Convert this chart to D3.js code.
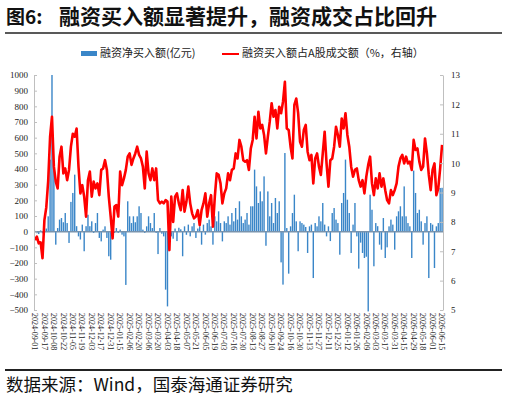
<!DOCTYPE html>
<html>
<head>
<meta charset="utf-8">
<script src="https://cdn.jsdelivr.net/npm/d3@7"></script>
<style>
  body { margin: 0; background: #fff; }
  svg { display: block; }
</style>
</head>
<body>
<div id="chart"></div>
<script>
// category labels (every 5th point)
const dateLabels = [
  "2024-09-01","2024-09-17","2024-10-08","2024-10-22","2024-11-05","2024-11-19",
  "2024-12-03","2024-12-17","2024-12-31","2025-01-15","2025-02-06","2025-02-20",
  "2025-03-06","2025-03-20","2025-04-03","2025-04-18","2025-05-07","2025-05-21",
  "2025-06-05","2025-06-19","2025-07-03","2025-07-16","2025-07-30","2025-08-13",
  "2025-08-27","2025-09-10","2025-09-24","2025-10-16","2025-10-30","2025-11-13",
  "2025-11-27","2025-12-11","2025-12-25","2026-01-12","2026-01-26","2026-02-09",
  "2026-03-03","2026-03-17","2026-03-31","2026-04-15","2026-04-29","2026-05-18",
  "2026-06-01","2026-06-15"
];
const labelStep = 5;

// 融资净买入额 (亿元)
const netBuy = [
  5,-10,-15,8,-10,10,20,98,460,1000,390,-83,23,77,87,60,119,55,-72,190,
  247,364,35,-30,-50,45,-125,35,108,35,66,-8,55,119,-40,-62,13,34,-40,-157,
  -179,30,-8,23,-8,13,-19,-30,-340,194,98,55,98,60,98,162,119,13,-8,34,
  98,55,23,119,-8,-143,23,-13,-30,-370,-477,20,-30,-45,20,-60,25,15,-157,34,
  -20,45,-30,34,55,-40,20,34,-83,45,-19,55,77,34,-83,98,66,130,55,-62,
  66,55,98,45,119,66,151,77,194,98,55,77,119,45,162,162,396,289,183,257,
  194,353,-90,257,98,183,55,215,119,194,-196,-338,502,23,-268,34,119,236,66,-125,
  66,55,45,30,-136,34,45,-296,55,34,98,66,183,45,-30,34,-60,119,151,77,
  55,-147,183,247,460,204,119,-136,45,183,-30,-236,-70,-136,-168,-160,-509,236,140,-221,
  55,35,-83,-115,87,-168,-100,34,77,45,-115,98,130,162,98,289,98,55,34,-168,
  390,247,119,140,66,-83,55,98,-296,55,45,-232,34,55,279,280
];

// 融资买入额占A股成交额 (%, 右轴)
const buyRatio = [
  7.38,7.5,7.27,7.3,6.76,8.06,8.5,9.4,10.9,11.58,9.88,9.37,9.14,10.22,10.56,9.65,9.82,9.42,9.77,10.56,
  11.0,10.9,11.18,9.88,8.97,9.25,8.86,8.18,9.42,9.71,8.86,9.37,9.14,9.31,8.91,9.77,9.82,10.1,9.77,8.86,
  8.18,7.44,8.52,8.57,8.18,9.71,9.25,9.48,9.77,10.22,10.33,9.94,10.16,10.33,10.56,10.28,10.16,9.88,9.14,10.39,
  9.65,9.42,9.82,9.42,9.82,8.74,8.63,8.69,8.63,8.74,8.69,7.04,8.86,8.0,8.86,8.97,8.63,8.4,9.08,8.35,
  8.69,9.2,8.63,8.29,8.12,8.18,8.4,7.89,8.4,8.63,8.97,8.18,8.63,8.91,7.84,8.86,9.65,9.6,9.31,8.63,
  8.97,9.14,9.65,9.42,9.77,9.82,10.33,10.16,10.79,10.56,10.1,10.05,10.1,9.77,10.5,10.79,11.58,10.84,11.75,11.18,
  11.3,10.96,10.33,10.9,11.41,12.04,11.58,11.81,11.18,11.92,11.7,12.09,12.77,11.18,11.13,10.56,10.16,11.98,12.2,11.7,
  10.73,10.56,11.13,11.3,10.39,10.1,10.28,9.31,10.16,10.33,9.88,9.6,10.33,11.07,9.99,9.2,10.1,10.16,10.56,11.24,
  10.96,10.56,11.52,11.18,11.7,10.96,10.56,9.88,9.54,9.77,9.82,9.42,9.2,9.42,8.97,9.54,9.94,10.22,9.31,8.91,
  9.48,9.14,9.65,9.2,9.48,9.08,8.74,8.63,9.08,8.91,9.08,9.31,9.88,10.16,10.28,9.99,10.22,9.99,10.05,9.77,
  10.79,10.45,10.5,10.05,9.77,9.88,10.84,10.33,9.6,9.08,9.77,9.99,8.91,9.14,9.82,10.62
];

const leftTicks = [-500,-400,-300,-200,-100,0,100,200,300,400,500,600,700,800,900,1000];
const rightTicks = [5,6,7,8,9,10,11,12,13];

const W = 508, H = 401;
const plot = {left: 34, right: 443, top: 75, bottom: 310};
const cjk = '"Noto Sans CJK SC", "Noto Sans", sans-serif';
const serif = '"Liberation Serif", "DejaVu Serif", serif';

const svg = d3.select('#chart').append('svg')
  .attr('width', W).attr('height', H);

// title
svg.append('text')
  .attr('x', 6).attr('y', 24)
  .style('font-family', cjk).style('font-weight', 'bold').style('font-size', '19px')
  .style('fill', '#111')
  .text('图6:');
svg.append('text')
  .attr('x', 59).attr('y', 24)
  .style('font-family', cjk).style('font-weight', 'bold').style('font-size', '21px')
  .style('fill', '#111')
  .text('融资买入额显著提升，融资成交占比回升');
svg.append('line')
  .attr('x1', 5).attr('x2', 502).attr('y1', 33).attr('y2', 33)
  .style('stroke', '#222').style('stroke-width', 1.5);

// legend
svg.append('rect')
  .attr('x', 81).attr('y', 51).attr('width', 16).attr('height', 5)
  .style('fill', '#3a86c8');
svg.append('text')
  .attr('x', 100).attr('y', 57)
  .style('font-family', cjk).style('font-size', '11px').style('fill', '#222')
  .text('融资净买入额(亿元)');
svg.append('line')
  .attr('x1', 222).attr('x2', 239).attr('y1', 54).attr('y2', 54)
  .style('stroke', '#ff0000').style('stroke-width', 2);
svg.append('text')
  .attr('x', 242).attr('y', 57)
  .style('font-family', cjk).style('font-size', '11px').style('fill', '#222')
  .text('融资买入额占A股成交额（%，右轴）');

// scales
const x = d3.scaleBand()
  .domain(d3.range(netBuy.length))
  .range([plot.left, plot.right])
  .padding(0);
const bw = x.bandwidth();
const yL = d3.scaleLinear().domain([-500, 1000]).range([plot.bottom, plot.top]);
const yR = d3.scaleLinear().domain([5, 13]).range([plot.bottom, plot.top]);

// bars
const barW = 1.4;
svg.append('g').selectAll('rect')
  .data(netBuy)
  .enter().append('rect')
  .attr('x', (d, i) => x(i) + bw / 2 - barW / 2)
  .attr('width', barW)
  .attr('y', d => yL(Math.max(0, d)))
  .attr('height', d => Math.abs(yL(d) - yL(0)))
  .style('fill', '#3a86c8');

// zero line
svg.append('line')
  .attr('x1', plot.left).attr('x2', plot.right)
  .attr('y1', yL(0)).attr('y2', yL(0))
  .style('stroke', '#7893ad').style('stroke-width', 1.5);

// red line
const line = d3.line()
  .x((d, i) => x(i) + bw / 2)
  .y(d => yR(d));
svg.append('path')
  .datum(buyRatio)
  .attr('d', line)
  .style('fill', 'none')
  .style('stroke', '#ff0000')
  .style('stroke-width', 2.6)
  .style('stroke-linejoin', 'round');

// axes
const axL = svg.append('g')
  .attr('transform', 'translate(' + plot.left + ',0)')
  .call(d3.axisLeft(yL).tickValues(leftTicks).tickFormat(d3.format('d'))
    .tickSizeInner(-3).tickSizeOuter(0).tickPadding(6));
const axR = svg.append('g')
  .attr('transform', 'translate(' + plot.right + ',0)')
  .call(d3.axisRight(yR).tickValues(rightTicks).tickFormat(d3.format('d'))
    .tickSizeInner(-3).tickSizeOuter(0).tickPadding(8));
[axL, axR].forEach(function(a){
  a.select('.domain').style('stroke', '#bfbfbf');
  a.selectAll('.tick line').style('stroke', '#bfbfbf');
  a.selectAll('.tick text')
    .style('font-family', serif).style('font-size', '9px').style('fill', '#222');
});

// category labels
svg.append('g').selectAll('text')
  .data(dateLabels)
  .enter().append('text')
  .attr('transform', (d, k) => 'translate(' + (x(k * labelStep) + bw / 2) + ',' + 313 + ') rotate(90)')
  .attr('dy', '0.35em')
  .style('text-anchor', 'start')
  .style('font-family', serif).style('font-size', '8px').style('fill', '#222')
  .text(d => d);

// footer
svg.append('line')
  .attr('x1', 5).attr('x2', 502).attr('y1', 370).attr('y2', 370)
  .style('stroke', '#222').style('stroke-width', 2);
svg.append('text')
  .attr('x', 6).attr('y', 391)
  .style('font-family', cjk).style('font-size', '17.5px').style('fill', '#111')
  .text('数据来源：Wind，国泰海通证券研究');
</script>
</body>
</html>
